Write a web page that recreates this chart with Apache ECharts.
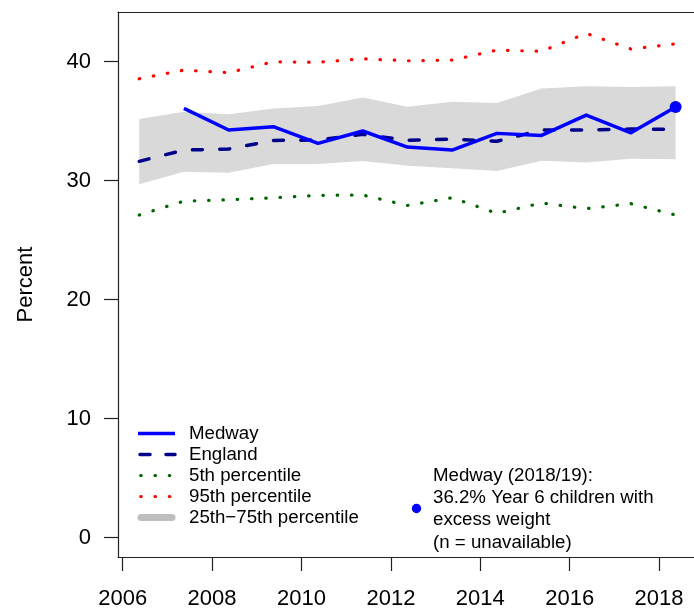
<!DOCTYPE html>
<html>
<head>
<meta charset="utf-8">
<script src="https://cdn.jsdelivr.net/npm/echarts@6/dist/echarts.min.js"></script>
<style>
html,body{margin:0;padding:0;background:#fff;}
#chart{width:694px;height:612px;}
</style>
</head>
<body>
<div id="chart"></div>
<script>
// ---- data ----
var xPos = [2006.37, 2007.37, 2008.37, 2009.37, 2010.37, 2011.37, 2012.37, 2013.37, 2014.37, 2015.37, 2016.37, 2017.37, 2018.37];
var medway = [null, 36.08, 34.26, 34.54, 33.14, 34.18, 32.83, 32.58, 33.98, 33.81, 35.52, 34.03, 36.2];
var england = [31.63, 32.58, 32.66, 33.39, 33.42, 33.9, 33.4, 33.5, 33.32, 34.26, 34.26, 34.34, 34.32];
var p5 = [27.12, 28.29, 28.4, 28.57, 28.77, 28.8, 27.92, 28.57, 27.26, 28.13, 27.65, 28.07, 27.12];
var p95 = [38.57, 39.3, 39.08, 40.0, 39.95, 40.25, 40.08, 40.14, 40.98, 40.88, 42.38, 41.07, 41.5];
var p25 = [29.7, 30.76, 30.67, 31.4, 31.4, 31.65, 31.25, 31.04, 30.82, 31.68, 31.54, 31.85, 31.8];
var p75 = [35.18, 35.8, 35.58, 36.08, 36.28, 37.0, 36.22, 36.64, 36.53, 37.76, 37.93, 37.87, 37.93];
var xTicks = [2006, 2008, 2010, 2012, 2014, 2016, 2018];
var yTicks = [0, 10, 20, 30, 40];
var legendLabels = ['Medway', 'England', '5th percentile', '95th percentile', '25th\u221275th percentile'];
var areaName = 'Medway';
var latestPeriod = '2018/19';
var latestValue = 36.2;
var latestCount = 'unavailable';
var yTitle = 'Percent';

// ---- styles ----
var FONT = '"Liberation Sans", Arial, Helvetica, sans-serif';
var C_MEDWAY = '#0000FF', C_ENG = '#00008B', C_P5 = '#006400', C_P95 = '#FF0000', C_BAND = '#D9D9D9', C_BAND_LEG = '#BEBEBE';
var C_AXIS = '#222';

function pairs(arr) {
  var out = [];
  for (var i = 0; i < xPos.length; i++) out.push([xPos[i], arr[i]]);
  return out;
}

var chart = echarts.init(document.getElementById('chart'), null, {renderer: 'canvas'});

var legY = [433.5, 454.5, 475.5, 496.5, 517.5];
var legendGraphics = [];
legendGraphics.push({type: 'line', shape: {x1: 138, y1: legY[0], x2: 175, y2: legY[0]}, style: {stroke: C_MEDWAY, lineWidth: 3.5}});
legendGraphics.push({type: 'line', shape: {x1: 140, y1: legY[1], x2: 175, y2: legY[1]}, style: {stroke: C_ENG, lineWidth: 3.5, lineDash: [10, 16], lineCap: 'round'}});
legendGraphics.push({type: 'line', shape: {x1: 140.7, y1: legY[2], x2: 175, y2: legY[2]}, style: {stroke: C_P5, lineWidth: 3.2, lineDash: [0.5, 13.8], lineCap: 'round'}});
legendGraphics.push({type: 'line', shape: {x1: 140.7, y1: legY[3], x2: 175, y2: legY[3]}, style: {stroke: C_P95, lineWidth: 3.2, lineDash: [0.5, 13.8], lineCap: 'round'}});
legendGraphics.push({type: 'line', shape: {x1: 141, y1: legY[4], x2: 172, y2: legY[4]}, style: {stroke: C_BAND_LEG, lineWidth: 7, lineCap: 'round'}});
for (var k = 0; k < legendLabels.length; k++) {
  legendGraphics.push({type: 'text', x: 189, y: legY[k], style: {text: legendLabels[k], font: '18.7px ' + FONT, fill: '#000', verticalAlign: 'middle', align: 'left'}});
}
var noteLines = [
  areaName + ' (' + latestPeriod + '):',
  latestValue.toFixed(1) + '% Year 6 children with',
  'excess weight',
  '(n = ' + latestCount + ')'
];
var noteY = [475.5, 497.8, 520.1, 542.4];
legendGraphics.push({type: 'circle', shape: {cx: 416.5, cy: 508.5, r: 4.7}, style: {fill: C_MEDWAY}});
for (var j = 0; j < noteLines.length; j++) {
  legendGraphics.push({type: 'text', x: 433, y: noteY[j], style: {text: noteLines[j], font: '18.7px ' + FONT, fill: '#000', verticalAlign: 'middle', align: 'left'}});
}

var X_MIN = 2005.895;
var X_MAX = 2005.895 + (694 - 118) / 44.7;

var option = {
  backgroundColor: '#fff',
  animation: false,
  textStyle: {fontFamily: FONT},
  grid: {left: 118, top: 12, right: 0, bottom: 55, show: false},
  xAxis: [
    {
      type: 'value',
      position: 'bottom',
      min: X_MIN,
      max: X_MAX,
      axisLine: {show: true, onZero: false, lineStyle: {color: C_AXIS, width: 1.2}},
      splitLine: {show: false},
      axisTick: {show: true, inside: false, length: 14, lineStyle: {color: C_AXIS, width: 1.2}, customValues: xTicks},
      axisLabel: {show: true, margin: 31, fontSize: 22, color: '#000', fontFamily: FONT, customValues: xTicks, formatter: function (v) { return String(v); }}
    },
    {
      type: 'value',
      position: 'top',
      min: X_MIN,
      max: X_MAX,
      axisLine: {show: true, onZero: false, lineStyle: {color: C_AXIS, width: 1.2}},
      splitLine: {show: false},
      axisTick: {show: false},
      axisLabel: {show: false}
    }
  ],
  yAxis: {
    type: 'value',
    min: -1.62,
    max: 44.18,
    name: yTitle,
    nameLocation: 'middle',
    nameRotate: 90,
    nameGap: 81,
    nameTextStyle: {fontSize: 22, color: '#000', fontFamily: FONT},
    axisLine: {show: true, onZero: false, lineStyle: {color: C_AXIS, width: 1.2}},
    splitLine: {show: false},
    axisTick: {show: true, inside: false, length: 14, lineStyle: {color: C_AXIS, width: 1.2}, customValues: yTicks},
    axisLabel: {show: true, margin: 27, fontSize: 22, color: '#000', fontFamily: FONT, customValues: yTicks}
  },
  graphic: legendGraphics,
  series: [
    {
      name: legendLabels[4],
      type: 'custom',
      silent: true,
      z: 1,
      data: [[xPos[0], p25[0]]],
      encode: {x: 0, y: 1},
      renderItem: function (params, api) {
        if (params.dataIndex !== 0) return null;
        var pts = [];
        for (var i = 0; i < xPos.length; i++) pts.push(api.coord([xPos[i], p75[i]]));
        for (var i2 = xPos.length - 1; i2 >= 0; i2--) pts.push(api.coord([xPos[i2], p25[i2]]));
        return {type: 'polygon', shape: {points: pts}, style: {fill: C_BAND, stroke: null}};
      }
    },
    {
      name: legendLabels[2], type: 'line', data: pairs(p5), symbol: 'none', silent: true, z: 2,
      lineStyle: {color: C_P5, width: 3.2, type: [0.5, 13.8], cap: 'round'}
    },
    {
      name: legendLabels[3], type: 'line', data: pairs(p95), symbol: 'none', silent: true, z: 2,
      lineStyle: {color: C_P95, width: 3.2, type: [0.5, 13.8], cap: 'round'}
    },
    {
      name: legendLabels[1], type: 'line', data: pairs(england), symbol: 'none', silent: true, z: 3,
      lineStyle: {color: C_ENG, width: 3.5, type: [10, 17.3], cap: 'round'}
    },
    {
      name: legendLabels[0], type: 'line', data: pairs(medway), symbol: 'none', silent: true, z: 4, connectNulls: false,
      lineStyle: {color: C_MEDWAY, width: 3.5, join: 'round'}
    },
    {
      name: 'latest', type: 'scatter', silent: true, z: 5,
      data: [[xPos[xPos.length - 1], medway[medway.length - 1]]],
      symbol: 'circle', symbolSize: 12,
      itemStyle: {color: C_MEDWAY, opacity: 1}
    }
  ]
};
chart.setOption(option);
</script>
</body>
</html>
